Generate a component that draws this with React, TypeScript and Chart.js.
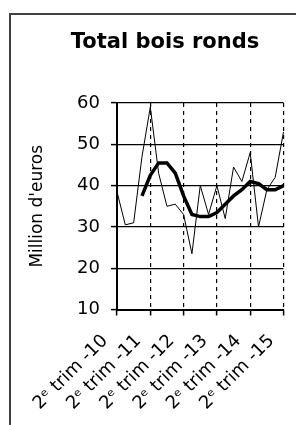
import React, { useEffect, useRef } from "react";
import { Chart, registerables } from "chart.js";

Chart.register(...registerables);

const titleText = "Total bois ronds";
const yTitle = "Million d'euros";

const categories = [
  "2ᵉ trim -10", "3ᵉ trim -10", "4ᵉ trim -10", "1ᵉʳ trim -11",
  "2ᵉ trim -11", "3ᵉ trim -11", "4ᵉ trim -11", "1ᵉʳ trim -12",
  "2ᵉ trim -12", "3ᵉ trim -12", "4ᵉ trim -12", "1ᵉʳ trim -13",
  "2ᵉ trim -13", "3ᵉ trim -13", "4ᵉ trim -13", "1ᵉʳ trim -14",
  "2ᵉ trim -14", "3ᵉ trim -14", "4ᵉ trim -14", "1ᵉʳ trim -15",
  "2ᵉ trim -15",
];

const quarterly = [
  38.5, 30.5, 31, 47, 59, 43, 35, 35.5, 33, 23.5, 40,
  33, 40, 32, 44.5, 41, 48, 30, 39, 42, 53,
];

const movingAvg = [
  null, null, null, 37.5, 42.5, 45.5, 45.5, 43, 37.5, 33, 32.5,
  32.5, 33.5, 35.5, 37.5, 39, 41, 40.5, 39, 39, 40,
];

const yTicks = [10, 20, 30, 40, 50, 60];

const FONT = '"DejaVu Sans", sans-serif';

const titlePlugin = {
  id: "customTitle",
  afterDraw(chart: any) {
    const ctx = chart.ctx;
    ctx.save();
    ctx.font = `bold 21px ${FONT}`;
    ctx.fillStyle = "#000";
    ctx.textAlign = "center";
    ctx.textBaseline = "middle";
    ctx.fillText(titleText, 165, 43);
    ctx.restore();
  },
};

export default function App() {
  const ref = useRef<HTMLCanvasElement>(null);
  useEffect(() => {
    if (!ref.current) return;
    const isYear = (i: number) => i % 4 === 0;
    const chart = new Chart(ref.current, {
      type: "line",
      data: {
        labels: categories,
        datasets: [
          {
            data: quarterly,
            borderColor: "#000",
            borderWidth: 1,
            pointRadius: 0,
            tension: 0,
            fill: false,
          },
          {
            data: movingAvg as any,
            borderColor: "#000",
            borderWidth: 3.5,
            pointRadius: 0,
            tension: 0,
            fill: false,
          },
        ],
      },
      options: {
        animation: false,
        responsive: false,
        layout: { padding: { left: 0, right: 12.5, top: 103, bottom: 0 } },
        plugins: {
          legend: { display: false },
          title: { display: false },
          tooltip: { enabled: false },
        },
        scales: {
          x: {
            type: "category",
            offset: false,
            afterFit: (s: any) => {
              s.height = 425 - 309.5;
              s.paddingRight = 0;
              s.paddingLeft = 0;
            },
            grid: {
              color: (c: any) => (isYear(c.index) ? "#000" : "rgba(0,0,0,0)"),
              tickColor: (c: any) => (isYear(c.index) ? "#000" : "rgba(0,0,0,0)"),
              lineWidth: 1.2,
              tickLength: 6,
              tickWidth: 1.5,
              drawOnChartArea: true,
            },
            border: { display: true, color: "#000", width: 2, dash: [4, 4] },
            ticks: {
              autoSkip: false,
              maxRotation: 45,
              minRotation: 45,
              padding: 15,
              labelOffset: -12,
              color: "#000",
              font: { family: FONT, size: 18 },
              callback: (_v: any, i: number) => (isYear(i) ? categories[i] : ""),
            },
          },
          y: {
            min: 10,
            max: 60,
            afterFit: (s: any) => {
              s.width = 117;
              s.paddingTop = 0;
              s.paddingBottom = 0;
            },
            afterBuildTicks: (s: any) => {
              s.ticks = yTicks.map((v) => ({ value: v }));
            },
            grid: {
              color: "#000",
              lineWidth: 1.2,
              tickLength: 6,
              tickWidth: 1.5,
            },
            border: { display: true, color: "#000", width: 2 },
            ticks: {
              padding: 11,
              color: "#000",
              font: { family: FONT, size: 18 },
            },
            title: {
              display: true,
              text: yTitle,
              color: "#000",
              font: { family: FONT, size: 17 },
              padding: { top: 27, bottom: 0 },
            },
          },
        },
      },
      plugins: [titlePlugin],
    });
    return () => chart.destroy();
  }, []);

  return (
    <div style={{ position: "absolute", left: 0, top: 0, width: 296, height: 425, background: "#fff", overflow: "hidden" }}>
      <canvas ref={ref} width={296} height={425} style={{ position: "absolute", left: 0, top: 0 }} />
      <div
        style={{
          position: "absolute",
          left: 9,
          top: 13,
          width: 400,
          height: 600,
          border: "2px solid #404040",
          boxSizing: "border-box",
          pointerEvents: "none",
        }}
      />
    </div>
  );
}
